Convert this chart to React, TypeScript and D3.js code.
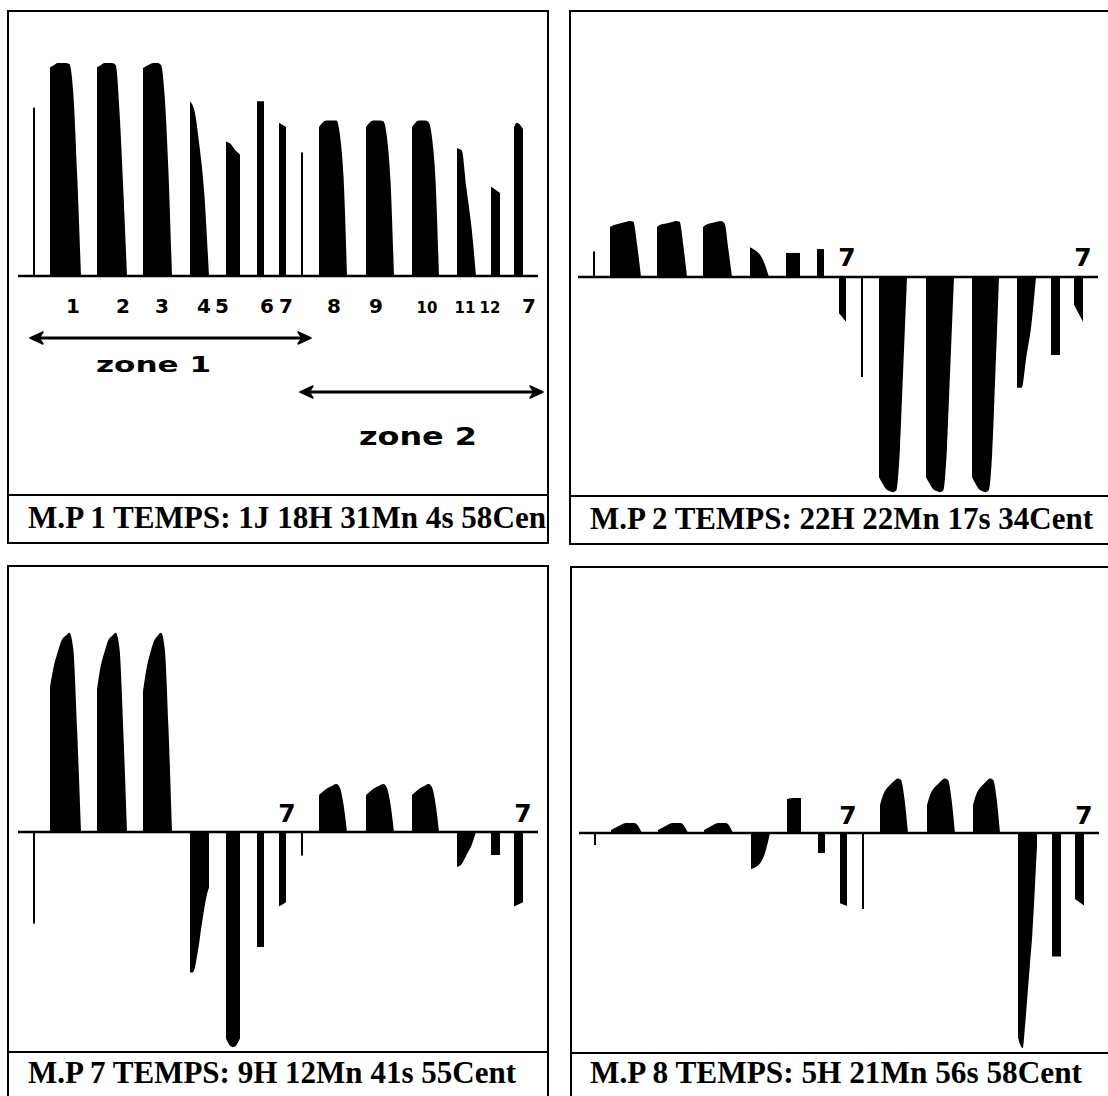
import React from "react";
import * as d3 from "d3";

// ---- data (in % of full scale) ----
const SLOT_START = [33, 50, 97, 143, 190, 226, 257, 279, 301, 319, 366, 412, 457, 491, 514];
const SLOT_END = [35, 81, 127, 172, 209, 240, 264, 286, 303, 347, 394, 439, 476, 500, 523];

const MP1 = [
  [79],
  [98, 99, 100, 100, 100, 99.5, 86, 48, 0],
  [98, 99, 100, 100, 100, 99, 77, 41, 0],
  [97.7, 98.6, 99.5, 100, 100, 99, 84, 50, 0],
  [82, 77, 61, 39, 0],
  [63, 62, 59, 57],
  [82, 82],
  [72, 70],
  [58],
  [70, 72, 73, 73, 73, 73, 66, 47, 0],
  [70, 72, 73, 73, 73, 72.5, 65, 45, 0],
  [70, 72, 73, 73, 73, 72, 64, 44, 0],
  [60, 59, 41, 24, 0],
  [42, 39],
  [70, 72, 71, 69],
];

const MP2 = [
  [12],
  [23.5, 24.4, 24.9, 25.4, 25.8, 26.3, 26, 15, 0],
  [23.5, 24.6, 25, 25.4, 25.8, 26.3, 26, 15, 0],
  [23.5, 24.6, 25.2, 25.6, 26, 26.3, 25, 13, 0],
  [14, 12.7, 10.8, 6.6, 0],
  [11.3, 11.3],
  [13.1, 13.1],
  [-17, -21],
  [-47],
  [-94, -97, -99.5, -100.5, -101, -100, -80, -40, 0],
  [-94, -97, -99.5, -100.5, -101, -100, -80, -40, 0],
  [-94, -97, -99.5, -100.5, -101, -100, -82, -42, 0],
  [-52, -52, -37, -23, 0],
  [-36.6, -36.6],
  [-13, -21],
];

const MP7 = [
  [-43],
  [68, 78, 84.5, 90, 92, 93.5, 86, 48, 0],
  [67, 78, 84.5, 90, 92, 93.5, 86, 48, 0],
  [66, 77, 84, 89.5, 92, 93.5, 86, 50, 0],
  [-66, -66, -64, -58, -51, -43, -36, -30, -26],
  [-97, -100, -101, -100, -97],
  [-54, -54],
  [-35, -33],
  [-11],
  [17.4, 18.8, 20.2, 21.1, 22, 22.5, 20.7, 13, 0],
  [17.4, 18.8, 20.2, 21.1, 22, 22.5, 20.7, 13, 0],
  [17.4, 18.8, 20.2, 21.1, 22, 22.5, 20.7, 13, 0],
  [-16.4, -15, -10.8, -6.6, 0],
  [-10.8, -10.8],
  [-35, -33],
];

const MP8 = [
  [-5.6],
  [1.4, 2.3, 3.3, 4.2, 4.7, 4.7, 4.7, 3.3, 0],
  [1.4, 2.3, 3.3, 4.2, 4.7, 4.7, 4.7, 3.3, 0],
  [1.4, 2.3, 3.3, 4.2, 4.7, 4.7, 4.7, 3.3, 0],
  [-17, -16, -14, -9, 0],
  [16, 16.4, 16.4],
  [-9.4, -9.4],
  [-33, -34.3],
  [-35.7],
  [13.1, 18.3, 21.1, 22.8, 24.4, 25.6, 24.9, 16, 0],
  [13.1, 18.3, 21.1, 22.8, 24.4, 25.6, 24.9, 16, 0],
  [13.1, 18.3, 21.1, 22.8, 24.4, 25.6, 24.9, 16, 0],
  [-96, -99.5, -101, -90, -76, -62, -48, -28, -6],
  [-58, -58],
  [-31, -34],
];

const CAPTIONS = [
  "M.P 1 TEMPS: 1J 18H 31Mn 4s 58Cen",
  "M.P 2 TEMPS: 22H 22Mn 17s 34Cent",
  "M.P 7 TEMPS: 9H 12Mn 41s 55Cent",
  "M.P 8 TEMPS: 5H 21Mn 56s 58Cent",
];

const GAUGE_LABELS = ["1", "2", "3", "4", "5", "6", "7", "8", "9", "10", "11", "12", "7"];
const ZONE_LABELS = ["zone 1", "zone 2"];
const MARK_LABEL = "7";

// ---- layout ----
const W = 1108;
const H = 1096;
const HALF = 213; // px for 100 %
const GAUGE_LABEL_X = [73, 123, 162, 204, 222, 267, 286, 334, 376, 427, 465, 490, 529];
const GAUGE_LABEL_SIZE = [20, 20, 20, 20, 20, 20, 20, 20, 20, 15, 15, 15, 20];

const PANELS = [
  { data: MP1, caption: CAPTIONS[0], ox: 0, base: 276, fx0: 8, fx1: 548, fy0: 11, fy1: 543, capY: 495, tx0: 28, tx1: 546, ty: 528, marks: false, markY: 0 },
  { data: MP2, caption: CAPTIONS[1], ox: 560, base: 277, fx0: 570, fx1: 1112, fy0: 11, fy1: 544, capY: 496, tx0: 590, tx1: 1093, ty: 529, marks: true, markY: 266 },
  { data: MP7, caption: CAPTIONS[2], ox: 0, base: 832, fx0: 8, fx1: 548, fy0: 566, fy1: 1100, capY: 1052, tx0: 28, tx1: 516, ty: 1083, marks: true, markY: 822 },
  { data: MP8, caption: CAPTIONS[3], ox: 561, base: 833, fx0: 571, fx1: 1112, fy0: 567, fy1: 1100, capY: 1053, tx0: 590, tx1: 1082, ty: 1083, marks: true, markY: 824 },
];

function Arrow({ x1, x2, y }: { x1: number; x2: number; y: number }) {
  const head = (tip: number, dir: number) =>
    `M${tip},${y} L${tip + dir * 13},${y - 6} L${tip + dir * 9},${y} L${tip + dir * 13},${y + 6} Z`;
  return (
    <g>
      <line x1={x1 + 4} x2={x2 - 4} y1={y} y2={y} stroke="#000" strokeWidth={3} />
      <path d={head(x1, 1)} fill="#000" stroke="#000" strokeWidth={1.5} strokeLinejoin="round" />
      <path d={head(x2, -1)} fill="#000" stroke="#000" strokeWidth={1.5} strokeLinejoin="round" />
    </g>
  );
}

function Panel({ p }: { p: (typeof PANELS)[number] }) {
  const y = d3.scaleLinear().domain([-100, 100]).range([p.base + HALF, p.base - HALF]);
  const x = d3.scaleLinear().domain([0, W]).range([p.ox, p.ox + W]);
  const marks = p.data.map((prof, i) => {
    const x0 = x(SLOT_START[i]);
    const x1 = x(SLOT_END[i]);
    if (prof.length === 1) {
      return <line key={i} x1={(x0 + x1) / 2} x2={(x0 + x1) / 2} y1={y(0)} y2={y(prof[0])} stroke="#000" strokeWidth={2} />;
    }
    const t = d3.scaleLinear().domain([0, prof.length - 1]).range([x0, x1]);
    const area = d3
      .area<number>()
      .x((_, j) => t(j))
      .y0(y(0))
      .y1((v) => y(v))
      .curve(d3.curveMonotoneX);
    return <path key={i} d={area(prof) || ""} fill="#000" />;
  });
  return (
    <g>
      <rect x={p.fx0} y={p.fy0} width={p.fx1 - p.fx0} height={p.fy1 - p.fy0} fill="none" stroke="#000" strokeWidth={2} />
      <line x1={p.fx0} x2={p.fx1} y1={p.capY} y2={p.capY} stroke="#000" strokeWidth={2} />
      {marks}
      <line x1={x(18)} x2={x(538)} y1={y(0)} y2={y(0)} stroke="#000" strokeWidth={2.5} />
      {p.marks && (
        <g fontFamily="DejaVu Sans" fontWeight="bold" fontSize={25} textAnchor="middle">
          <text x={x(287)} y={p.markY}>{MARK_LABEL}</text>
          <text x={x(523)} y={p.markY}>{MARK_LABEL}</text>
        </g>
      )}
      <text
        x={p.tx0}
        y={p.ty}
        fontFamily="Liberation Serif"
        fontWeight="bold"
        fontSize={32}
        textLength={p.tx1 - p.tx0}
        lengthAdjust="spacingAndGlyphs"
      >
        {p.caption}
      </text>
    </g>
  );
}

export default function App() {
  return (
    <svg width={W} height={H} style={{ position: "absolute", left: 0, top: 0, display: "block", background: "#fff" }}>
      <rect x={0} y={0} width={W} height={H} fill="#fff" />
      {PANELS.map((p, i) => (
        <Panel key={i} p={p} />
      ))}
      <g fontFamily="DejaVu Sans" fontWeight="bold" textAnchor="middle" fill="#000">
        {GAUGE_LABELS.map((l, i) => (
          <text key={i} x={GAUGE_LABEL_X[i]} y={313} fontSize={GAUGE_LABEL_SIZE[i]}>{l}</text>
        ))}
      </g>
      <Arrow x1={30} x2={311} y={338} />
      <Arrow x1={300} x2={543} y={392} />
      <text x={96} y={372} fontFamily="DejaVu Sans" fontWeight="bold" fontSize={21} textLength={115} lengthAdjust="spacingAndGlyphs">{ZONE_LABELS[0]}</text>
      <text x={359} y={445} fontFamily="DejaVu Sans" fontWeight="bold" fontSize={25} textLength={118} lengthAdjust="spacingAndGlyphs">{ZONE_LABELS[1]}</text>
    </svg>
  );
}
